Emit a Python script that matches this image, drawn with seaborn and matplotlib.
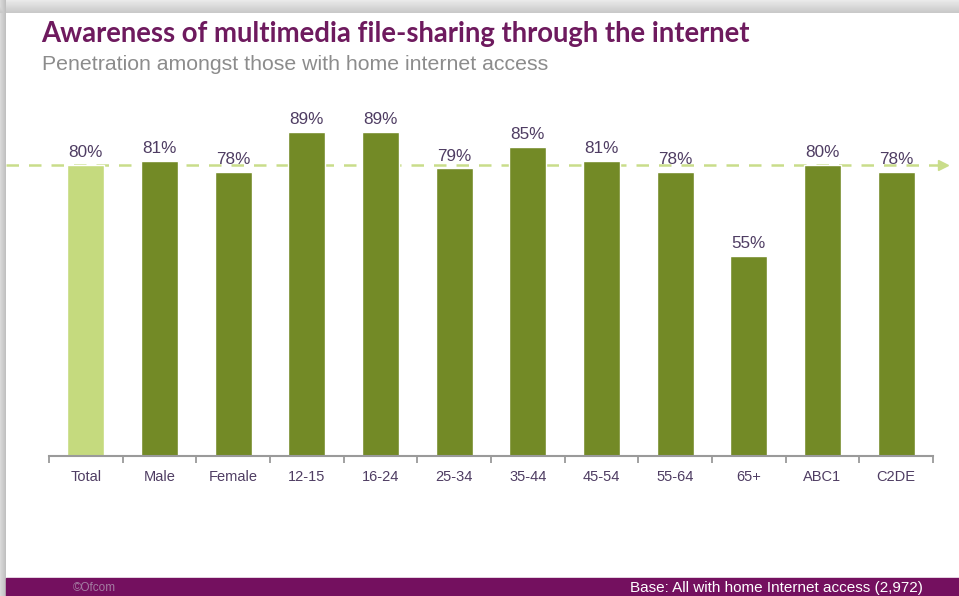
import matplotlib
matplotlib.use("Agg")
import matplotlib.pyplot as plt
import matplotlib.transforms as mtransforms
from matplotlib.patches import Rectangle
import numpy as np
import pandas as pd
import seaborn as sns

# Survey results
categories = ["Total", "Male", "Female", "12-15", "16-24", "25-34", "35-44",
              "45-54", "55-64", "65+", "ABC1", "C2DE"]
awareness = [80, 81, 78, 89, 89, 79, 85, 81, 78, 55, 80, 78]
value_labels = [f"{v}%" for v in awareness]

title = "Awareness of multimedia file-sharing through the internet"
subtitle = "Penetration amongst those with home internet access"
footer_left = "©Ofcom"
footer_right = "Base: All with home Internet access (2,972)"

TOTAL_GREEN = "#c5da7e"
BAR_GREEN = "#738a26"
LINE_GREEN = "#c9dd8a"
PURPLE = "#6e1a5e"
TEXT_COL = "#4f3d63"

sns.set_theme(style="white")
plt.rcParams["font.family"] = ["Liberation Sans", "DejaVu Sans"]

W, H = 959, 596
SLIDE_X, SLIDE_Y = 6, 13
fig = plt.figure(figsize=(W / 100, H / 100), dpi=100)
fig.patch.set_facecolor("white")

# Slide backdrop with a soft drop shadow along the top and left edges
bg = fig.add_axes([0, 0, 1, 1], zorder=-10)
bg.set_xlim(0, W)
bg.set_ylim(H, 0)
bg.axis("off")
ys = np.arange(H)[:, None] + 0.5
xs = np.arange(W)[None, :] + 0.5
top_shade = np.where(ys < SLIDE_Y, 0.78 + 0.14 * (SLIDE_Y - ys) / SLIDE_Y, 1.0)
left_shade = np.where(xs < SLIDE_X, 0.74 + 0.12 * (SLIDE_X - xs) / SLIDE_X, 1.0)
shade = np.minimum(top_shade * np.ones_like(xs), left_shade * np.ones_like(ys))
bg.imshow(shade, cmap="gray", vmin=0, vmax=1, extent=(0, W, H, 0),
          aspect="auto", interpolation="bilinear")
bg.add_patch(Rectangle((SLIDE_X, 578), W - SLIDE_X, H - 578, color="#74105f",
                       zorder=3))
bg.text(73, 588, footer_left, color="#a47ca2", fontsize=8.5, va="center",
        ha="left", zorder=4)
bg.text(923, 588, footer_right, color="white", fontsize=11, va="center",
        ha="right", zorder=4)
bg.text(41, 34, title, color=PURPLE, fontsize=19.8, fontweight="bold",
        family=["Lato", "DejaVu Sans"], va="center", ha="left")
bg.text(42, 64, subtitle, color="#8c8c8c", fontsize=15.3, va="center",
        ha="left")

# Bar chart
ax = fig.add_axes([49 / W, 1 - 456 / H, (933 - 49) / W, (456 - 92) / H])
ax.patch.set_alpha(0)
df = pd.DataFrame({"group": categories, "pct": awareness})
palette = {c: (TOTAL_GREEN if c == "Total" else BAR_GREEN) for c in categories}
sns.barplot(data=df, x="group", y="pct", hue="group", palette=palette,
            width=0.5, dodge=False, legend=False, saturation=1, ax=ax)
ax.set_xlim(-0.5, len(categories) - 0.5)
ax.set_ylim(0, 100)
ax.set_xlabel("")
ax.set_ylabel("")
ax.set_yticks([])
for s in ["top", "right", "left"]:
    ax.spines[s].set_visible(False)
ax.spines["bottom"].set_color("#9a9a9a")
ax.spines["bottom"].set_linewidth(1.5)
ax.set_xticks(np.arange(len(categories)))
ax.set_xticklabels(categories, fontsize=10.5, color=TEXT_COL)
ax.tick_params(axis="x", which="major", bottom=True, length=0, pad=10)
ax.set_xticks(np.arange(len(categories) + 1) - 0.5, minor=True)
ax.tick_params(axis="x", which="minor", bottom=True, length=5, width=1.3,
               color="#9a9a9a", direction="out")

for i, (v, lab) in enumerate(zip(awareness, value_labels)):
    ax.text(i, v + 1.3, lab, ha="center", va="bottom", fontsize=12.3,
            color=TEXT_COL)

# Reference line at the overall total
trans = mtransforms.blended_transform_factory(fig.transFigure, ax.transData)
ax.plot([SLIDE_X / W, 940 / W], [awareness[0]] * 2, transform=trans,
        color=LINE_GREEN, lw=1.8, ls=(0, (5, 4)), clip_on=False, zorder=0.5)
ax.plot([943 / W], [awareness[0]], transform=trans, marker=">", ms=7,
        color=LINE_GREEN, clip_on=False, zorder=0.5)

fig.savefig("out.png", dpi=100)
